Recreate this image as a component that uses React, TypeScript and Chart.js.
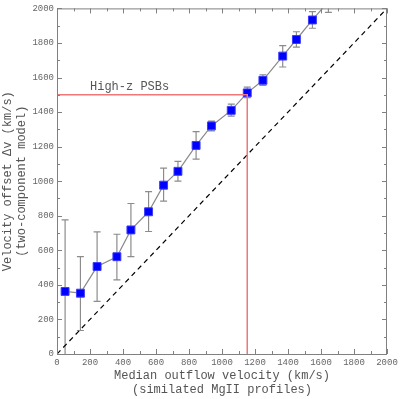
import React, { useEffect, useRef } from 'react';
import { Chart, registerables } from 'chart.js';

Chart.register(...registerables);

const medianVelocity = [49, 142, 243, 363, 448, 555, 646, 733, 843, 936, 1056, 1153, 1248, 1368, 1451, 1548, 1645];
const offsetVelocity = [362, 352, 506, 563, 718, 823, 977, 1057, 1207, 1320, 1410, 1511, 1584, 1724, 1820, 1933, 2040];
const errLow = [-100, 136, 305, 429, 563, 709, 885, 1000, 1128, 1291, 1377, 1483, 1555, 1661, 1776, 1885, 1977];
const errHigh = [776, 564, 707, 693, 871, 940, 1076, 1115, 1287, 1348, 1446, 1544, 1616, 1785, 1865, 1981, 2100];

const psbVelocity = 1153;
const psbOffset = 1500;
const oneToOne = [0, 2000];
const psbLabel = 'High-z PSBs';
const psbLabelPos = [200, 1545];

const axisMin = 0;
const axisMax = 2000;
const majorStep = 200;
const minorStep = 100;

const xTitle = ['Median outflow velocity (km/s)', '(similated MgII profiles)'];
const yTitle = ['Velocity offset \u0394v (km/s)', '(two-component model)'];

const MONO = '"Courier New", "Liberation Mono", monospace';

const framePlugin = {
  id: 'frameAndExtras',
  beforeDatasetsDraw(chart: any) {
    const { ctx, chartArea: a, scales } = chart;
    const xs = scales.x, ys = scales.y;
    ctx.save();
    ctx.beginPath();
    ctx.rect(a.left, a.top, a.right - a.left, a.bottom - a.top);
    ctx.clip();
    ctx.strokeStyle = '#8c8c8c';
    ctx.lineWidth = 1.2;
    const cap = 3.5;
    for (let i = 0; i < medianVelocity.length; i++) {
      const px = xs.getPixelForValue(medianVelocity[i]);
      const lo = ys.getPixelForValue(errLow[i]);
      const hi = ys.getPixelForValue(errHigh[i]);
      ctx.beginPath();
      ctx.moveTo(px, lo);
      ctx.lineTo(px, hi);
      ctx.moveTo(px - cap, lo);
      ctx.lineTo(px + cap, lo);
      ctx.moveTo(px - cap, hi);
      ctx.lineTo(px + cap, hi);
      ctx.stroke();
    }
    ctx.restore();
  },
  afterDatasetsDraw(chart: any) {
    const { ctx, chartArea: a, scales } = chart;
    const xs = scales.x, ys = scales.y;
    ctx.save();
    ctx.strokeStyle = '#808080';
    ctx.lineWidth = 1;
    ctx.strokeRect(a.left + 0.5, a.top + 0.5, a.right - a.left - 1, a.bottom - a.top);
    ctx.beginPath();
    for (let v = axisMin; v <= axisMax; v += minorStep) {
      const len = v % majorStep === 0 ? 5 : 3;
      const px = Math.round(xs.getPixelForValue(v)) + 0.5;
      ctx.moveTo(px, a.bottom);
      ctx.lineTo(px, a.bottom - len);
      ctx.moveTo(px, a.top);
      ctx.lineTo(px, a.top + len);
      const py = Math.round(ys.getPixelForValue(v)) + 0.5;
      ctx.moveTo(a.left, py);
      ctx.lineTo(a.left + len, py);
      ctx.moveTo(a.right, py);
      ctx.lineTo(a.right - len, py);
    }
    ctx.stroke();
    ctx.fillStyle = '#555';
    ctx.font = '12px ' + MONO;
    ctx.textBaseline = 'middle';
    ctx.textAlign = 'left';
    ctx.fillText(psbLabel, xs.getPixelForValue(psbLabelPos[0]), ys.getPixelForValue(psbLabelPos[1]));
    ctx.restore();
  },
};

export default function App() {
  const ref = useRef<HTMLCanvasElement>(null);
  useEffect(() => {
    if (!ref.current) return;
    const points = medianVelocity.map((x, i) => ({ x, y: offsetVelocity[i] }));
    const fmt = (v: any) => String(v);
    const chart = new Chart(ref.current, {
      type: 'line',
      data: {
        datasets: [
          {
            label: 'psb',
            data: [
              { x: axisMin, y: psbOffset },
              { x: psbVelocity, y: psbOffset },
              { x: psbVelocity, y: axisMin },
            ],
            borderColor: '#f07878',
            borderWidth: 1.5,
            pointRadius: 0,
            fill: false,
          },
          {
            label: 'one-to-one',
            data: oneToOne.map((v) => ({ x: v, y: v })),
            borderColor: '#000',
            borderWidth: 1.2,
            borderDash: [5, 4],
            pointRadius: 0,
            fill: false,
          },
          {
            label: 'model',
            data: points,
            borderColor: '#8a8a8a',
            borderWidth: 1.2,
            pointStyle: 'rect',
            pointRadius: 5.6,
            pointBackgroundColor: '#0000ff',
            pointBorderColor: '#3c3cff',
            pointBorderWidth: 1,
            fill: false,
          },
        ],
      },
      options: {
        responsive: false,
        animation: false,
        events: [],
        layout: { padding: { top: 6, right: 20, left: 0, bottom: 0 } },
        plugins: { legend: { display: false }, tooltip: { enabled: false } },
        scales: {
          x: {
            type: 'linear',
            min: axisMin,
            max: axisMax,
            grid: { display: false, drawTicks: false },
            border: { display: false },
            ticks: { stepSize: majorStep, padding: 3, maxRotation: 0, color: '#666', callback: fmt, font: { family: MONO, size: 9 } },
            title: { display: true, text: xTitle, color: '#555', padding: { top: 0, bottom: 2 }, font: { family: MONO, size: 12, lineHeight: 1.15 } },
            afterFit: (s: any) => { s.height = 45; },
          },
          y: {
            type: 'linear',
            min: axisMin,
            max: axisMax,
            grid: { display: false, drawTicks: false },
            border: { display: false },
            ticks: { stepSize: majorStep, padding: 3, color: '#666', callback: fmt, font: { family: MONO, size: 9 } },
            title: { display: true, text: yTitle, color: '#555', padding: { top: 1, bottom: 0 }, font: { family: MONO, size: 12, lineHeight: 1.15 } },
            afterFit: (s: any) => { s.width = 57; },
          },
        },
      },
      plugins: [framePlugin],
    });
    return () => chart.destroy();
  }, []);
  return (
    <div style={{ position: 'fixed', left: 0, top: 0, width: 407, height: 399, background: '#fff' }}>
      <canvas ref={ref} width={407} height={399} />
    </div>
  );
}
